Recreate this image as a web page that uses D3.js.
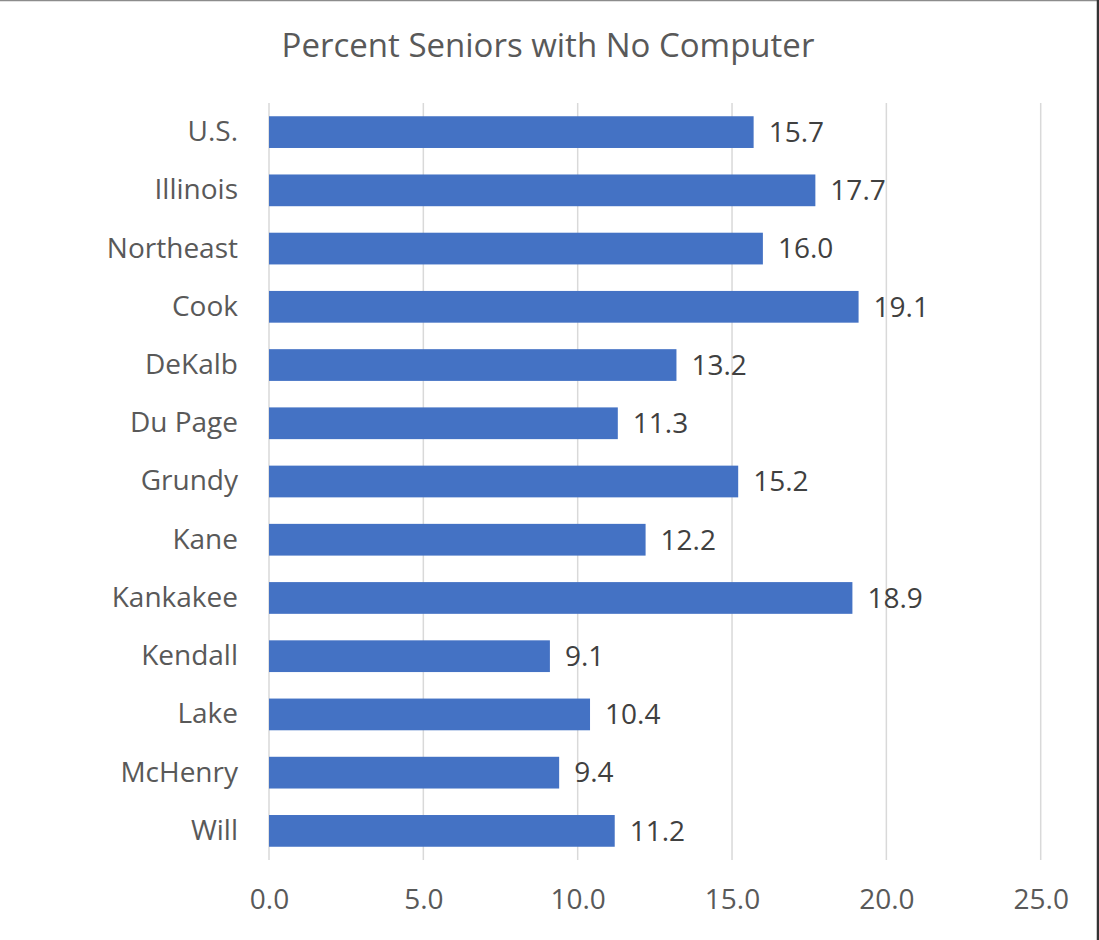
<!DOCTYPE html>
<html><head><meta charset="utf-8">
<script src="https://cdn.jsdelivr.net/npm/d3@7"></script>
<style>
html,body{margin:0;padding:0;background:#fff;}
svg{display:block;}
text{font-family:"Open Sans",sans-serif;}
</style></head>
<body>
<svg id="chart" width="1099" height="940"></svg>
<script>
const title = "Percent Seniors with No Computer";
const categories = ["U.S.","Illinois","Northeast","Cook","DeKalb","Du Page","Grundy","Kane","Kankakee","Kendall","Lake","McHenry","Will"];
const values = [15.7,17.7,16.0,19.1,13.2,11.3,15.2,12.2,18.9,9.1,10.4,9.4,11.2];
const xTicks = [0,5,10,15,20,25];

const W = 1099, H = 940;
const margin = {left:269, right:W-1040.7, top:103, bottom:H-860};
const svg = d3.select("#chart");

svg.append("rect").attr("x",0).attr("y",0).attr("width",W).attr("height",H).attr("fill","#fff");
// border
svg.append("line").attr("x1",0).attr("x2",W).attr("y1",0.5).attr("y2",0.5).attr("stroke","#8c8c8c").attr("stroke-width",1.5);
svg.append("line").attr("x1",W-1).attr("x2",W-1).attr("y1",0).attr("y2",H).attr("stroke","#333").attr("stroke-width",2.5);

const x = d3.scaleLinear().domain([0,25]).range([margin.left, W-margin.right]);
const y = d3.scaleBand().domain(categories).range([margin.top, H-margin.bottom]).paddingInner(0.455).paddingOuter(0.2275);

// gridlines
svg.append("g").selectAll("line").data(xTicks).join("line")
  .attr("x1",d=>x(d)).attr("x2",d=>x(d))
  .attr("y1",margin.top).attr("y2",H-margin.bottom)
  .attr("stroke","#d9d9d9").attr("stroke-width",1.5);

// x axis labels
const xAxis = d3.axisBottom(x).tickValues(xTicks).tickFormat(d3.format(".1f")).tickSize(0).tickPadding(0);
const gx = svg.append("g").attr("transform",`translate(0,${H-margin.bottom})`).call(xAxis);
gx.select(".domain").remove();
gx.selectAll("text").attr("y",40).attr("dy","0.32em").attr("font-size",28).attr("fill","#595959").attr("font-family","Open Sans");

// y axis labels
const yAxis = d3.axisLeft(y).tickSize(0).tickPadding(31);
const gy = svg.append("g").attr("transform",`translate(${margin.left},0)`).call(yAxis);
gy.select(".domain").remove();
gy.selectAll("text").attr("font-size",28).attr("fill","#595959").attr("font-family","Open Sans");

// bars
svg.append("g").selectAll("rect").data(categories).join("rect")
  .attr("x",x(0)).attr("y",d=>y(d))
  .attr("width",(d,i)=>x(values[i])-x(0))
  .attr("height",y.bandwidth())
  .attr("fill","#4472c4");

// data labels
svg.append("g").selectAll("text").data(categories).join("text")
  .attr("x",(d,i)=>x(values[i])+15)
  .attr("y",d=>y(d)+y.bandwidth()/2)
  .attr("dy","0.35em")
  .attr("font-size",28).attr("fill","#404040")
  .text((d,i)=>d3.format(".1f")(values[i]));

// title
svg.append("text").attr("x",548).attr("y",45).attr("dy","0.35em")
  .attr("text-anchor","middle").attr("font-size",33).attr("fill","#595959")
  .text(title);
</script>
</body></html>
